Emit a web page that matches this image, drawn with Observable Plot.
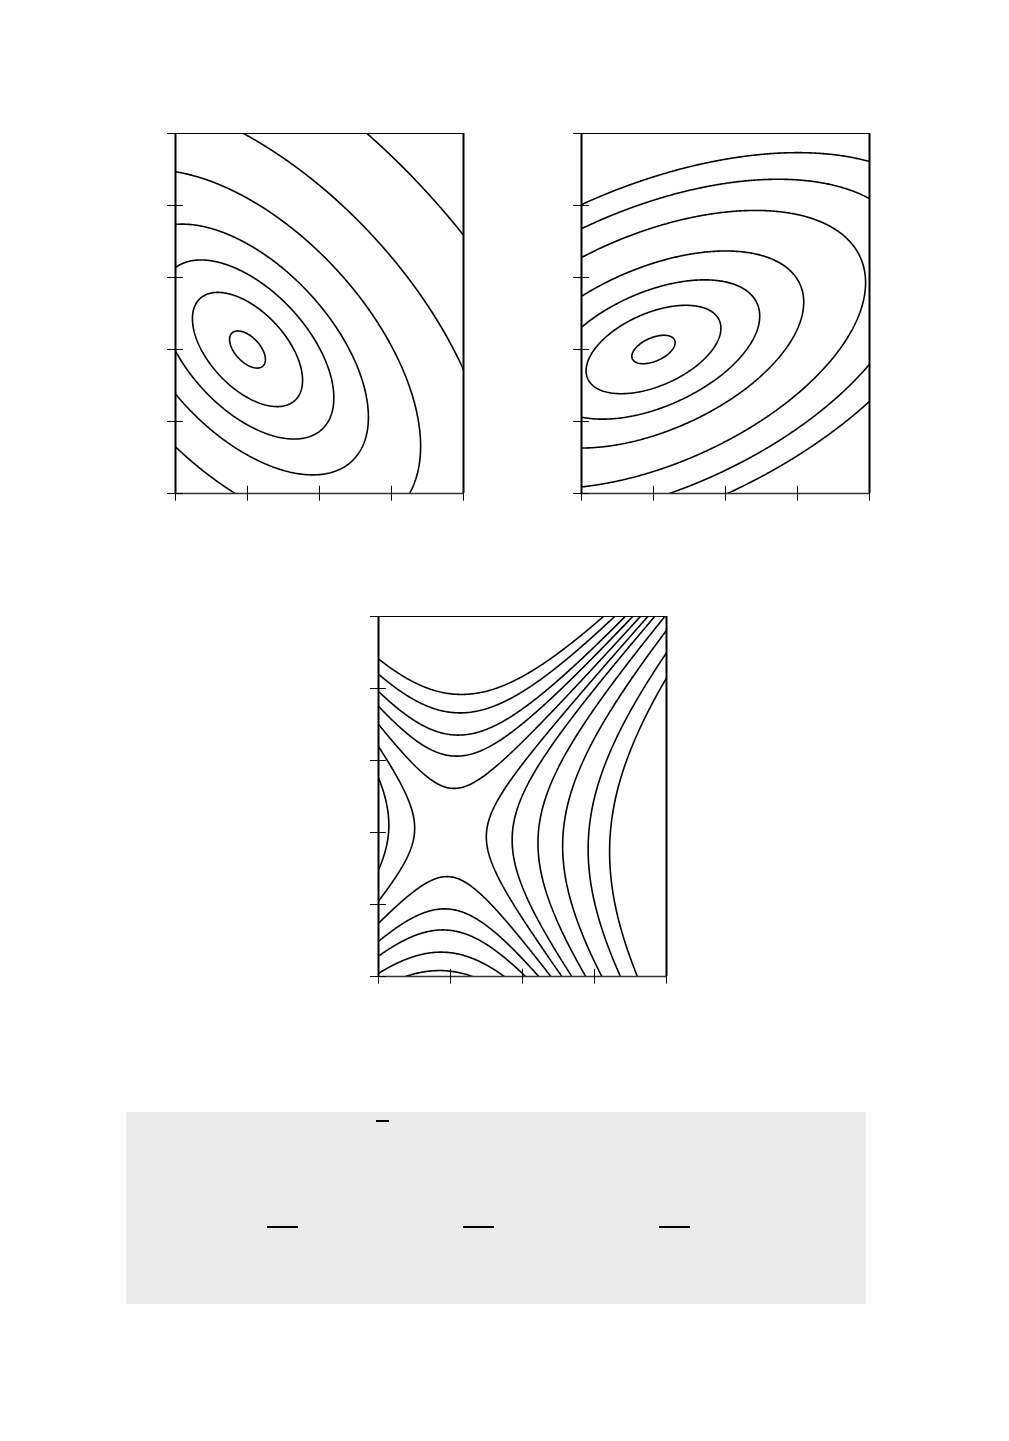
<!DOCTYPE html>
<html><head><meta charset="utf-8">
<script src="https://cdn.jsdelivr.net/npm/d3@7"></script>
<script src="https://cdn.jsdelivr.net/npm/@observablehq/plot@0.6"></script>
<style>
html,body{margin:0;padding:0;background:#fff;}
#page{position:relative;width:1009px;height:1441px;overflow:hidden;background:#fff;}
.panel{position:absolute;width:328px;height:400px;}
.panel svg{display:block;max-width:none !important;}
#box{position:absolute;left:126px;top:1112px;width:740px;height:192px;background:#ebebeb;}
.bar{position:absolute;height:2px;background:#000;}
</style></head><body><div id="page"></div>
<script>
// ---- data ----
const xTicks = [0, 1, 2, 3, 4];
const yTicks = [0, 1, 2, 3, 4, 5];
const xDomain = [0, 4];
const yDomain = [0, 5];
// quadratic forms f = a(x-x0)^2 + 2b(x-x0)(y-y0) + c(y-y0)^2, one entry per panel
const panelNames = ["left ellipses", "right ellipses", "saddle"];
const centerX = [1, 1, 1];
const centerY = [2, 2, 2];
const coefA = [1, 0.43, 1];
const coefB = [0.52, -0.315, -0.08];
const coefC = [0.93, 1, -0.66];
// contour levels per panel
const levelsLeft = [0.044, 0.415, 1.02, 2.0, 4.1, 8.2, 16.3];
const levelsRight = [0.030, 0.29, 0.72, 1.44, 2.87, 4.3, 5.75];
const levelsSaddle = [-2.45, -1.84, -1.22, -0.75, -0.25, 0.25, 0.74, 1.49, 2.45, 3.69, 4.93];

// ---- layout ----
const page = document.getElementById("page");
const layout = [
  {left: 155, top: 113},
  {left: 561, top: 113},
  {left: 358, top: 596}
];

function makePanel(i, levels) {
  const f = (x, y) => {
    const u = x - centerX[i], v = y - centerY[i];
    return coefA[i] * u * u + 2 * coefB[i] * u * v + coefC[i] * v * v;
  };
  return Plot.plot({
    width: 328, height: 400,
    marginLeft: 20, marginRight: 20, marginTop: 20, marginBottom: 20,
    x: {domain: xDomain, axis: null},
    y: {domain: yDomain, axis: null},
    marks: [
      Plot.contour({
        value: f, x1: -0.3, x2: 4.3, y1: -0.3, y2: 5.3,
        thresholds: levels, stroke: "#000", strokeWidth: 1.6, fill: "none",
        clip: true, pixelSize: 1
      }),
      Plot.ruleX(xDomain, {stroke: "#000", strokeWidth: 2}),
      Plot.ruleY([yDomain[1]], {stroke: "#000", strokeWidth: 1.2}),
      Plot.ruleY([yDomain[0]], {stroke: "#333", strokeWidth: 1.6}),
      Plot.ruleX(xTicks, {y1: -0.105, y2: 0.1, stroke: "#000", strokeWidth: 1}),
      Plot.ruleY(yTicks, {x1: -0.11, x2: 0.11, stroke: "#000", strokeWidth: 1})
    ]
  });
}

const allLevels = [levelsLeft, levelsRight, levelsSaddle];
allLevels.forEach((lv, i) => {
  const d = document.createElement("div");
  d.className = "panel";
  d.style.left = layout[i].left + "px";
  d.style.top = layout[i].top + "px";
  d.setAttribute("aria-label", panelNames[i]);
  d.appendChild(makePanel(i, lv));
  page.appendChild(d);
});

// grey box with fraction bars
const box = document.createElement("div");
box.id = "box";
page.appendChild(box);
const bars = [
  {left: 376, top: 1120, width: 13},
  {left: 267, top: 1226, width: 31},
  {left: 463, top: 1226, width: 31},
  {left: 659, top: 1226, width: 31}
];
bars.forEach(b => {
  const e = document.createElement("div");
  e.className = "bar";
  e.style.left = b.left + "px";
  e.style.top = b.top + "px";
  e.style.width = b.width + "px";
  page.appendChild(e);
});
</script>
</body></html>
